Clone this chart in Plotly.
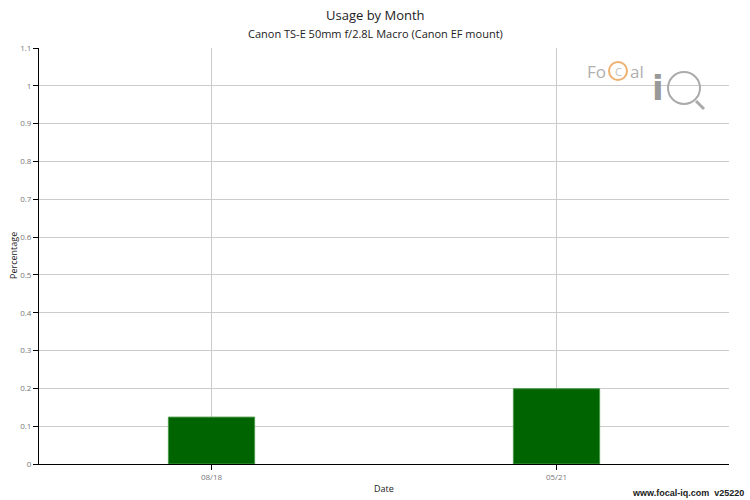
import plotly.graph_objects as go

months = ["08/18", "05/21"]
usage = [0.124, 0.199]
y_ticks = [0, 0.1, 0.2, 0.3, 0.4, 0.5, 0.6, 0.7, 0.8, 0.9, 1, 1.1]
y_tick_text = ["0", "0.1", "0.2", "0.3", "0.4", "0.5", "0.6", "0.7", "0.8", "0.9", "1", "1.1"]

L, R, T, B = 39, 729, 48, 464

fig = go.Figure()
fig.add_trace(go.Bar(
    x=months, y=usage, width=0.25,
    marker=dict(color="#006400", line=dict(color="#4a9a4a", width=1)),
    hoverinfo="x+y",
))

fig.update_layout(
    width=750, height=500,
    margin=dict(l=L, r=750 - R, t=T, b=500 - B, autoexpand=False),
    paper_bgcolor="white", plot_bgcolor="white",
    font=dict(family="Open Sans", color="#444"),
    showlegend=False,
    xaxis=dict(
        type="category", showgrid=True, gridcolor="#cccccc", gridwidth=1,
        showline=True, linecolor="black", linewidth=1,
        ticks="outside", ticklen=5, tickcolor="black",
        tickfont=dict(size=8, color="#777"),
        zeroline=False, automargin=False,
    ),
    yaxis=dict(
        range=[0, 1.1], tickvals=y_ticks, ticktext=y_tick_text,
        showgrid=True, gridcolor="#cccccc", gridwidth=1,
        showline=True, linecolor="black", linewidth=1,
        ticks="outside", ticklen=5, tickcolor="black",
        tickfont=dict(size=8, color="#777"),
        zeroline=False, automargin=False,
    ),
)

def px(xp):
    return (xp - L) / (R - L)
def py(yp):
    return (B - yp) / (B - T)

def txt(text, x, y, size, color, anchor="center", family="Open Sans", angle=0):
    fig.add_annotation(text=text, x=px(x), y=py(y), xref="paper", yref="paper",
                       showarrow=False, xanchor=anchor, yanchor="middle",
                       textangle=angle,
                       font=dict(size=size, color=color, family=family))

txt("Usage by Month", 375, 15, 13, "#222")
txt("Canon TS-E 50mm f/2.8L Macro (Canon EF mount)", 375, 33, 11, "#222")
txt("Date", 384, 489, 9, "#222")
txt("Percentage", 13, 256, 9, "#222", angle=-90)
txt("<b>www.focal-iq.com  v25220</b>", 746, 493, 9, "#222", anchor="right",
    family="Liberation Sans")

# logo approximation
txt("Fo", 585, 71, 17, "#b0b0b0", anchor="left")
txt("al", 628, 71, 17, "#b0b0b0", anchor="left")
fig.add_shape(type="circle", xref="paper", yref="paper",
              x0=px(609), x1=px(627), y0=py(80), y1=py(62),
              line=dict(color="#f0b070", width=2))
txt("C", 618, 71.5, 11, "#c0c0c0")
txt("<b>i</b>", 658, 88, 34, "#999999", family="DejaVu Sans")
fig.add_shape(type="circle", xref="paper", yref="paper",
              x0=px(668), x1=px(700), y0=py(104), y1=py(72),
              line=dict(color="#aaaaaa", width=2))
fig.add_shape(type="line", xref="paper", yref="paper",
              x0=px(696), x1=px(704), y0=py(101), y1=py(109),
              line=dict(color="#aaaaaa", width=3))

fig.write_html("out.html", config={"displayModeBar": False},
               post_script="document.body.style.margin='0';document.body.style.overflow='hidden';")
